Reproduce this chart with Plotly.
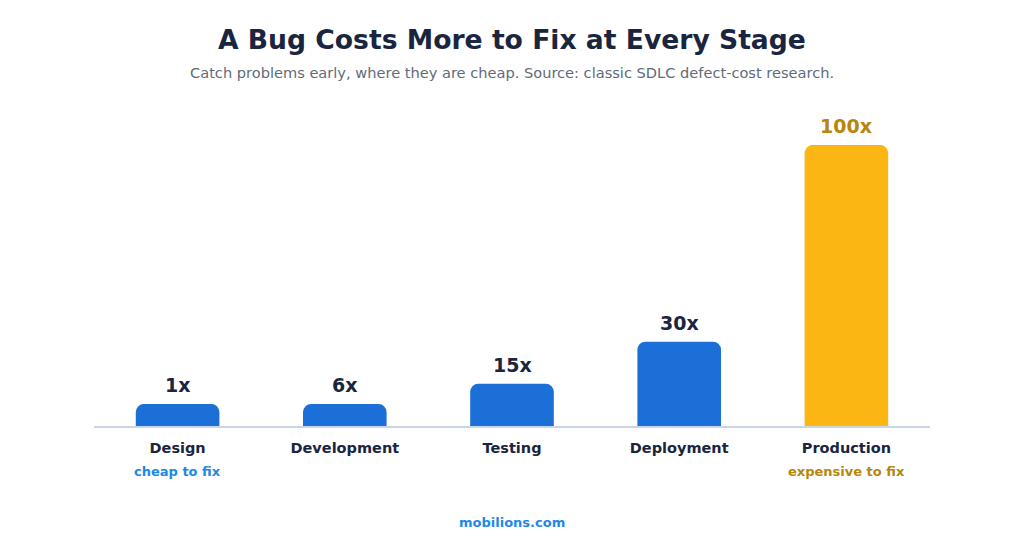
import plotly.graph_objects as go

stages = ["Design", "Development", "Testing", "Deployment", "Production"]
cost = [1, 6, 15, 30, 100]
labels = ["1x", "6x", "15x", "30x", "100x"]
colors = ["#1b6fd6", "#1b6fd6", "#1b6fd6", "#1b6fd6", "#fbb614"]
label_colors = ["#1a2540", "#1a2540", "#1a2540", "#1a2540", "#b8860b"]
MIN_H = 7.8  # small bars get a visible minimum height

H, W = 546, 1024
OFF = 8  # page body margin in the browser
top, bottom, left, right = 117 - OFF, 120 + OFF, 94 - OFF, 94 + OFF
ymax = 110
plot_h = H - top - bottom


def py(pixel_y):
    # screenshot pixel (from top) -> paper coordinate
    return (H - bottom - (pixel_y - OFF)) / plot_h


fig = go.Figure(go.Bar(
    x=stages, y=[max(c, MIN_H) for c in cost],
    marker=dict(color=colors, cornerradius=8, line=dict(width=0)),
    width=0.5, hoverinfo="skip",
))

for s, c, t, lc in zip(stages, cost, labels, label_colors):
    fig.add_annotation(x=s, y=max(c, MIN_H), text=f"<b>{t}</b>", showarrow=False,
                       yanchor="bottom", yshift=6, font=dict(size=19, color=lc))

fig.add_annotation(x="Design", y=py(471), yref="paper", text="<b>cheap to fix</b>", showarrow=False,
                   yanchor="middle", font=dict(size=13, color="#1e88e5"))
fig.add_annotation(x="Production", y=py(471), yref="paper", text="<b>expensive to fix</b>", showarrow=False,
                   yanchor="middle", font=dict(size=13, color="#b8860b"))

fig.add_annotation(x=0.5, xref="paper", y=py(40), yref="paper", yanchor="middle",
                   text="<b>A Bug Costs More to Fix at Every Stage</b>", showarrow=False,
                   font=dict(size=26.6, color="#1a2540"))
fig.add_annotation(x=0.5, xref="paper", y=py(72), yref="paper", yanchor="middle",
                   text="Catch problems early, where they are cheap. Source: classic SDLC defect-cost research.",
                   showarrow=False, font=dict(size=14.6, color="#5f6b7a"))
fig.add_annotation(x=0.5, xref="paper", y=py(522), yref="paper", yanchor="middle",
                   text="<b>mobilions.com</b>", showarrow=False,
                   font=dict(size=13, color="#1e88e5"))

fig.update_layout(
    width=W, height=H, margin=dict(t=top, b=bottom, l=left, r=right),
    paper_bgcolor="white", plot_bgcolor="white", showlegend=False,
    font=dict(family="DejaVu Sans"),
    xaxis=dict(showline=True, linecolor="#c9d6e6", linewidth=2, showgrid=False,
               tickfont=dict(size=14.5, color="#1a2540"), ticks="", ticklabelstandoff=8,
               tickvals=stages, ticktext=[f"<b>{s}</b>" for s in stages]),
    yaxis=dict(range=[0, ymax], visible=False, showgrid=False),
)

fig.write_html("out.html")
